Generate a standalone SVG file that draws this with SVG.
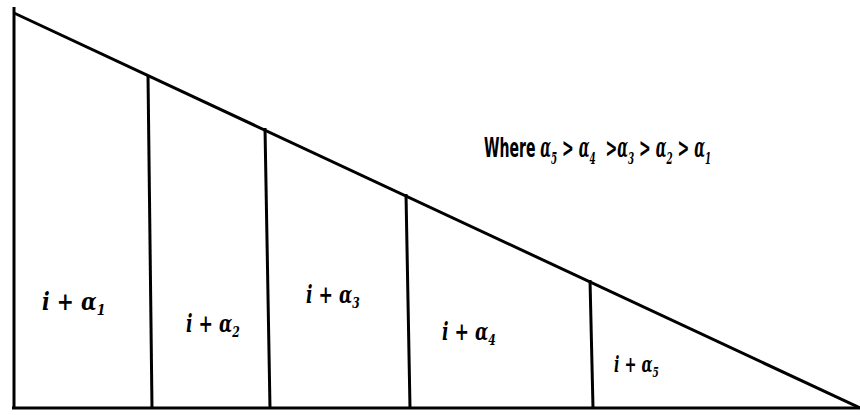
<svg xmlns="http://www.w3.org/2000/svg" width="860" height="415" viewBox="0 0 860 415">
<style>
.ln{stroke:#000;stroke-width:3;fill:none;stroke-linecap:butt}
.lb{font-family:"DejaVu Serif","Liberation Serif",serif;font-style:italic;font-weight:bold;font-size:24px;fill:#000}
.sb{font-size:15px}
.wh{font-family:"DejaVu Sans","Liberation Sans",sans-serif;font-weight:bold;font-size:27px;fill:#000;white-space:pre}
.wm{font-family:"DejaVu Serif","Liberation Serif",serif;font-style:italic;font-weight:bold}
.ws{font-size:17px}
</style>
<rect width="860" height="415" fill="#fff"/>
<g id="connectors">
<line class="ln" x1="14" y1="7" x2="14" y2="409"/>
<line class="ln" x1="12" y1="408" x2="860" y2="408"/>
<line class="ln" x1="14" y1="13" x2="860" y2="408"/>
<line class="ln" x1="148" y1="75" x2="152" y2="408"/>
<line class="ln" x1="265" y1="128" x2="270" y2="408"/>
<line class="ln" x1="406" y1="194" x2="410" y2="408"/>
<line class="ln" x1="590" y1="280" x2="593" y2="408"/>
</g>
<g id="note">
<text class="wh" xml:space="preserve" transform="translate(484,157) scale(0.52,1)">Where <tspan class="wm">α</tspan><tspan class="wm ws" dy="7">5</tspan><tspan dy="-7"> &gt; </tspan><tspan class="wm">α</tspan><tspan class="wm ws" dy="7">4</tspan><tspan dy="-7">  &gt;</tspan><tspan class="wm">α</tspan><tspan class="wm ws" dy="7">3</tspan><tspan dy="-7"> &gt; </tspan><tspan class="wm">α</tspan><tspan class="wm ws" dy="7">2</tspan><tspan dy="-7"> &gt; </tspan><tspan class="wm">α</tspan><tspan class="wm ws" dy="7">1</tspan></text>
</g>
<g id="seg1"><text class="lb" transform="translate(42,310) scale(0.85,1)">i + α<tspan class="sb" dy="5">1</tspan></text></g>
<g id="seg2"><text class="lb" transform="translate(186,332) scale(0.72,1)">i + α<tspan class="sb" dy="5">2</tspan></text></g>
<g id="seg3"><text class="lb" transform="translate(306,303) scale(0.72,1)">i + α<tspan class="sb" dy="5">3</tspan></text></g>
<g id="seg4"><text class="lb" transform="translate(442,340) scale(0.72,1)">i + α<tspan class="sb" dy="5">4</tspan></text></g>
<g id="seg5"><text class="lb" transform="translate(614,372) scale(0.6,0.9)">i + α<tspan class="sb" dy="5">5</tspan></text></g>
</svg>
